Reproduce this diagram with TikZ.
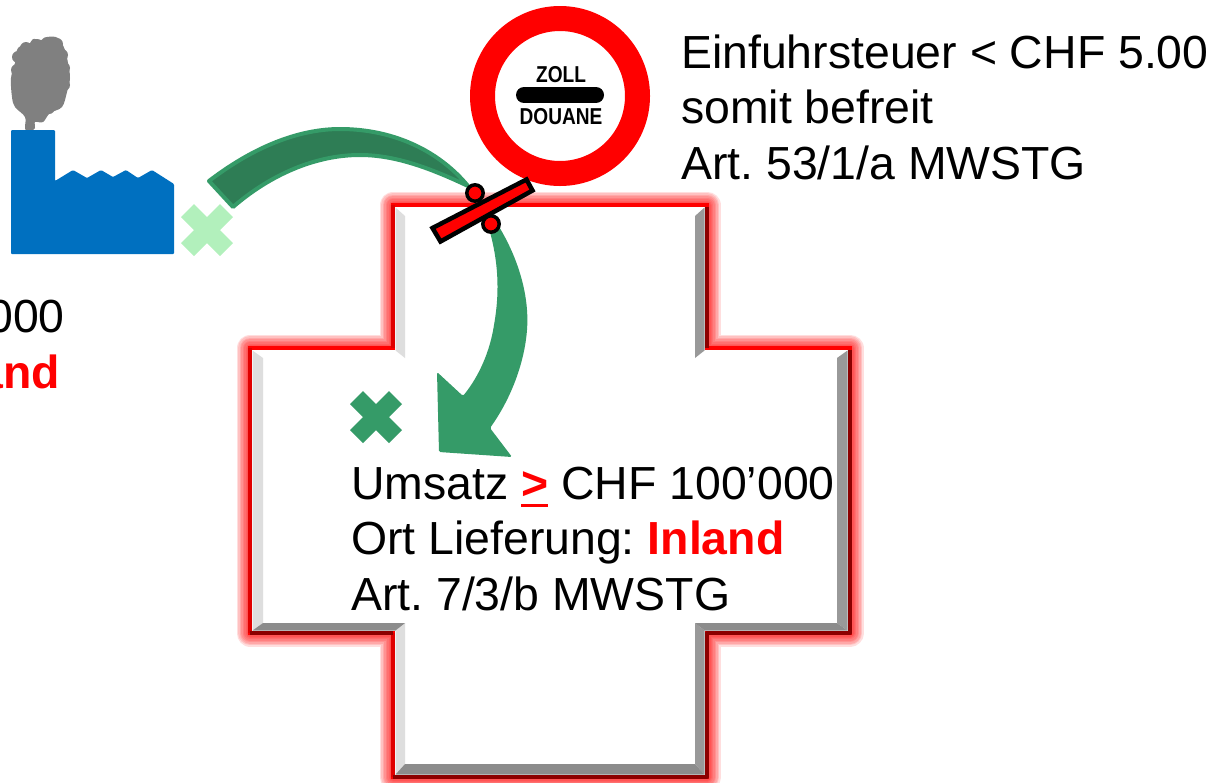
\documentclass[tikz,border=0pt]{standalone}
\usepackage{fontspec}
\setmainfont{Liberation Sans}
\frenchspacing
\definecolor{fabrik}{HTML}{0070C0}
\definecolor{rauch}{HTML}{808080}
\definecolor{gruen}{HTML}{359B68}
\definecolor{dunkelgruen}{HTML}{2E7D55}
\definecolor{hellgruen}{HTML}{B2F0BC}
\definecolor{hellgrau}{HTML}{DEDEDE}
\definecolor{grau}{HTML}{999999}
\definecolor{dunkelgrau}{HTML}{8C8C8C}
\definecolor{dunkelrot}{HTML}{8C0000}
\newcommand\unterstr[1]{\setbox0\hbox{#1}\rlap{\rule[-8pt]{\wd0}{3.5pt}}\box0}
\begin{document}
\begin{tikzpicture}[x=1pt,y=-1pt,line join=round,
	txt/.style={inner sep=0pt,anchor=base west,align=left,font=\fontsize{46.4}{55.5}\selectfont},
	schild/.style={inner sep=0pt,xscale=.83,font=\fontsize{23}{23}\selectfont\bfseries}]
	\def\kreuz{(0,-13)--(13,-26)--(26,-13)--(13,0)--(26,13)--(13,26)--(0,13)--(-13,26)--(-26,13)--(-13,0)--(-26,-13)--(-13,-26)--cycle}
	\def\umriss{(393,205)--(707,205)--(707,348)--(850,348)--(850,633)--(707,633)--(707,777)--(393,777)--(393,633)--(250,633)--(250,348)--(393,348)--cycle}
	\useasboundingbox (0,0) rectangle (1215,782);
	% Schweiz
	\foreach \w in {27,24,21,18,15,12,9,7} \draw[red,opacity=.13,line width=\w pt] \umriss;
	\fill[white] \umriss;
	\draw[red,line width=4.5pt,line join=miter] \umriss;
	\draw[red!88!black,line width=4.5pt] (393,348)--(393,205) (250,633)--(250,348) (393,777)--(393,633);
	\draw[dunkelrot,line width=4.5pt] (707,207)--(707,348) (850,350)--(850,633)--(707,633)--(707,777)--(393,777) (393,633)--(250,633);
	\fill[hellgrau] (395.5,207.5)--(405,216)--(405,358)--(395.5,350.5)--cycle
		(252.5,350.5)--(263,358)--(263,623)--(252.5,630.5)--cycle
		(395.5,630.5)--(405,623)--(405,764)--(395.5,774.5)--cycle;
	\fill[grau] (704.5,207.5)--(695,216)--(695,358)--(704.5,350.5)--cycle
		(847.5,350.5)--(837,358)--(837,623)--(847.5,630.5)--cycle
		(704.5,630.5)--(695,623)--(695,764)--(704.5,774.5)--cycle;
	\fill[dunkelgrau] (252.5,630.5)--(263,623)--(405,623)--(395.5,630.5)--cycle
		(704.5,630.5)--(695,623)--(837,623)--(847.5,630.5)--cycle
		(395.5,774.5)--(405,764)--(695,764)--(704.5,774.5)--cycle;
	% Fabrik
	\fill[rauch] plot[smooth cycle,tension=.6] coordinates {(28,133)(25,128)(25,117)(15,107)(12,97)(11,78)(15,63)(18,48)(30,43)(33,39)(42,40)(47,37)(58,38)(65,50)(68,63)(70,78)(67,92)(62,107)(50,113)(43,122)(35,122)(35,128)};
	\foreach \rx/\ry in {18/57,26/48,37/45,47/43,57/44,62/55,64/68,64/85,58/100,49/108,19/100,17/85,17/70}
		\fill[rauch] (\rx,\ry) circle (6);
	\fill[fabrik,rounded corners=1pt] (11,130)--(55,130)--(55,181)--(73,170)--(87,178)--(101,170)--(113,177)--(126,170)--(138,178)--(152,170)--(174,184)--(174,254)--(11,254)--cycle;
	\begin{scope}[shift={(207,230)}]\fill[hellgruen] \kreuz;\end{scope}
	\begin{scope}[shift={(376,417)}]\fill[gruen] \kreuz;\end{scope}
	% Zoll
	\draw[red,line width=25pt,fill=white] (560,96) circle (77.5);
	\draw[line width=16pt,line cap=round] (524,95)--(596,95);
	\node[schild] (zoll) at (561,75) {ZOLL};
	\node[schild] (douane) at (561,117) {DOUANE};
	% Pfeile
	\draw[gruen,line width=4pt,fill=dunkelgruen] (209,181) .. controls (260,142) and (305,129) .. (340,129) .. controls (395,129) and (440,152) .. (468,186) .. controls (430,168) and (395,155) .. (360,155) .. controls (315,155) and (270,175) .. (233,207) -- cycle;
	\fill[gruen,rounded corners=1.5pt] (478,198) .. controls (510,235) and (530,285) .. (527,330) .. controls (524,365) and (510,400) .. (490,428) -- (512,457) -- (439,452) -- (437,372) -- (463,396) .. controls (480,375) and (490,350) .. (494,325) .. controls (500,290) and (500,250) .. (478,198) -- cycle;
	\draw[line width=3.5pt,fill=red] (475,193) circle (8.2) (491,224) circle (8.2);
	\draw[line width=4.5pt,fill=red,line join=miter] (432.5,228)--(440.5,241.5)--(532.5,190.5)--(526.5,179.5)--cycle;
	% Texte
	\node[txt] (befreit) at (681,179) {Einfuhrsteuer < CHF 5.00\\somit befreit\\Art. 53/1/a MWSTG};
	\node[txt] (inland) at (351,610) {Umsatz \textcolor{red}{\unterstr{\bfseries >}} CHF 100’000\\Ort Lieferung: \textcolor{red}{\bfseries Inland}\\Art. 7/3/b MWSTG};
	\node[txt,anchor=base east] (umsatz) at (65,332) {000};
	\node[txt,anchor=base east,text=red,font=\fontsize{46.4}{55.5}\selectfont\bfseries] (ausland) at (60,388) {and};
\end{tikzpicture}
\end{document}
